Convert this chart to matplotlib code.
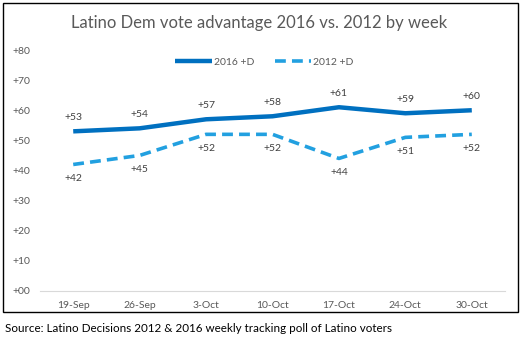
import matplotlib.pyplot as plt
from matplotlib.patches import Rectangle

weeks = ['19-Sep', '26-Sep', '3-Oct', '10-Oct', '17-Oct', '24-Oct', '30-Oct']
adv_2016 = [53, 54, 57, 58, 61, 59, 60]
adv_2012 = [42, 45, 52, 52, 44, 51, 52]
yticks = [0, 10, 20, 30, 40, 50, 60, 70, 80]

plt.rcParams['font.family'] = ['Lato', 'DejaVu Sans']
fig = plt.figure(figsize=(5.29, 3.5), dpi=100)
ax = fig.add_axes([40/529, 59/350, 465/529, 241/350])

x = range(len(weeks))
ax.plot(x, adv_2016, color='#0070C0', lw=3.2, solid_capstyle='butt', label='2016 +D')
ax.plot(x, adv_2012, color='#22A0E0', lw=2.6, ls=(0, (3, 1.7)), label='2012 +D')

for i, v in enumerate(adv_2016):
    ax.annotate('+%d' % v, (i, v), xytext=(0, 7), textcoords='offset points',
                ha='center', va='bottom', fontsize=7.5, color='#404040')
for i, v in enumerate(adv_2012):
    ax.annotate('+%d' % v, (i, v), xytext=(0, -7), textcoords='offset points',
                ha='center', va='top', fontsize=7.5, color='#404040')

ax.set_xlim(-0.5, len(weeks) - 0.5)
ax.set_ylim(0, 80)
ax.set_yticks(yticks)
ax.set_yticklabels(['+%02d' % t for t in yticks])
ax.set_xticks(list(x))
ax.set_xticklabels(weeks)
ax.tick_params(length=0, labelsize=7.5, labelcolor='#595959')
ax.tick_params(axis='x', pad=7)
ax.tick_params(axis='y', pad=7)
for s in ['top', 'right', 'left']:
    ax.spines[s].set_visible(False)
ax.spines['bottom'].set_color('#D9D9D9')

fig.text(0.49, 1 - 23/350, 'Latino Dem vote advantage 2016 vs. 2012 by week',
         ha='center', va='center', fontsize=12, color='#595959')
fig.legend(loc='center', bbox_to_anchor=(0.5, 1 - 62/350), ncol=2, frameon=False,
           fontsize=7.5, handlelength=3.5, columnspacing=2, handletextpad=0.2,
           labelcolor='#595959')

fig.patches.append(Rectangle((3/529, 1 - 312/350), 515/529, 309/350, transform=fig.transFigure,
                             fill=False, edgecolor='black', lw=1))
fig.text(5/529, 1 - 329/350, 'Source: Latino Decisions 2012 & 2016 weekly tracking poll of Latino voters',
         ha='left', va='center', fontsize=8.4, color='black')

fig.savefig('out.png', dpi=100)
